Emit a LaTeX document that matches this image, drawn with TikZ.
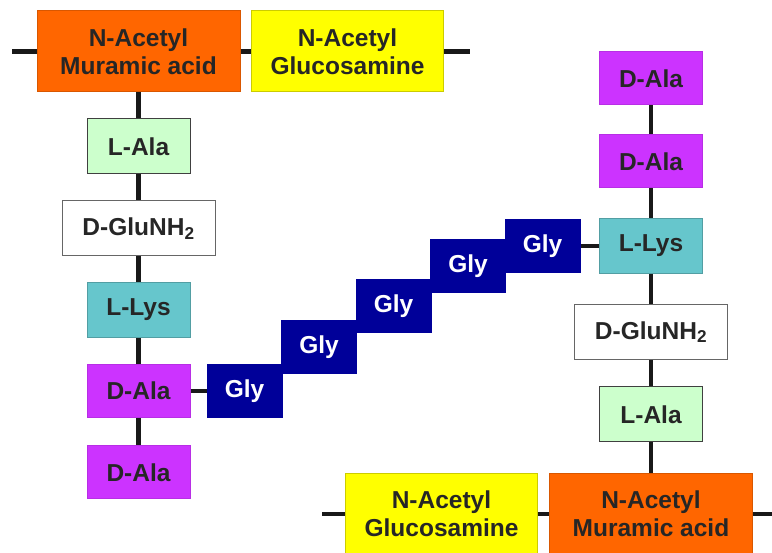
\documentclass[tikz,border=0pt]{standalone}
\usepackage{fontspec}
\setmainfont{Liberation Sans}
\definecolor{murcol}{HTML}{FF6600}
\definecolor{glccol}{HTML}{FFFF00}
\definecolor{alacol}{HTML}{CCFFCC}
\definecolor{lyscol}{HTML}{66C6CC}
\definecolor{dalacol}{HTML}{CC33FF}
\definecolor{glycol}{HTML}{000099}
\definecolor{txtcol}{HTML}{262626}
\tikzset{
  box/.style={rectangle, inner sep=0pt, align=center, text=txtcol,
    font=\fontsize{24.5}{28}\selectfont\bfseries, line width=1pt},
  murbox/.style={box, fill=murcol, draw=murcol!85!black, minimum width=203pt, minimum height=81pt},
  glcbox/.style={box, fill=glccol, draw=glccol!80!black, minimum width=192pt, minimum height=81pt},
  alabox/.style={box, fill=alacol, draw=black!75, minimum width=103pt, minimum height=55pt},
  glubox/.style={box, fill=white, draw=black!60, minimum width=153pt, minimum height=55pt},
  lysbox/.style={box, fill=lyscol, draw=lyscol!80!black, minimum width=103pt, minimum height=55pt},
  dalabox/.style={box, fill=dalacol, draw=dalacol!90!black, minimum width=103pt, minimum height=53pt},
  glybox/.style={box, fill=glycol, draw=glycol, text=white, minimum width=75pt, minimum height=53pt},
  bond/.style={line width=4.5pt, black!90}
}
\begin{document}
\begin{tikzpicture}[x=1pt,y=-1pt]
\useasboundingbox (0,0) rectangle (772,553);
\clip (0,0) rectangle (772,553);
% top chain
\node[murbox] (mur1) at (138.5,51.5) {N-Acetyl\\Muramic acid};
\node[glcbox] (glc1) at (347.5,51.5) {N-Acetyl\\Glucosamine};
\coordinate (tl) at (12,51.5);
\coordinate (tr) at (470,51.5);
% left column
\node[alabox] (lala1) at (138.5,146.5) {L-Ala};
\node[glubox] (glu1) at (138.5,228.5) {D-GluNH\textsubscript{2}};
\node[lysbox] (lys1) at (138.5,310) {L-Lys};
\node[dalabox] (dala1) at (138.5,391) {D-Ala};
\node[dalabox] (dala2) at (138.5,472.5) {D-Ala};
% glycine bridge
\node[glybox] (g1) at (244.5,391) {Gly};
\node[glybox] (g2) at (319,347) {Gly};
\node[glybox] (g3) at (393.5,306.5) {Gly};
\node[glybox] (g4) at (468,266.5) {Gly};
\node[glybox] (g5) at (542.5,246) {Gly};
% right column
\node[dalabox] (dalaR1) at (651,78.5) {D-Ala};
\node[dalabox] (dalaR2) at (651,161.5) {D-Ala};
\node[lysbox] (lysR) at (651,246) {L-Lys};
\node[glubox] (gluR) at (651,332) {D-GluNH\textsubscript{2}};
\node[alabox] (lalaR) at (651,414.5) {L-Ala};
% bottom chain
\node[glcbox] (glc2) at (441.5,514) {N-Acetyl\\Glucosamine};
\node[murbox] (mur2) at (651,514) {N-Acetyl\\Muramic acid};
\coordinate (bl) at (322,514);
\coordinate (br) at (772,514);
% bonds
\draw[bond] (tl) -- (mur1.west);
\draw[bond] (mur1.east) -- (glc1.west);
\draw[bond] (glc1.east) -- (tr);
\draw[bond] (mur1.south) -- (lala1.north);
\draw[bond] (lala1.south) -- (glu1.north);
\draw[bond] (glu1.south) -- (lys1.north);
\draw[bond] (lys1.south) -- (dala1.north);
\draw[bond] (dala1.south) -- (dala2.north);
\draw[bond] (dala1.east) -- (g1.west);
\draw[bond] (g5.east) -- (lysR.west);
\draw[bond] (dalaR1.south) -- (dalaR2.north);
\draw[bond] (dalaR2.south) -- (lysR.north);
\draw[bond] (lysR.south) -- (gluR.north);
\draw[bond] (gluR.south) -- (lalaR.north);
\draw[bond] (lalaR.south) -- (mur2.north);
\draw[bond] (bl) -- (glc2.west);
\draw[bond] (glc2.east) -- (mur2.west);
\draw[bond] (mur2.east) -- (br);
\end{tikzpicture}
\end{document}
